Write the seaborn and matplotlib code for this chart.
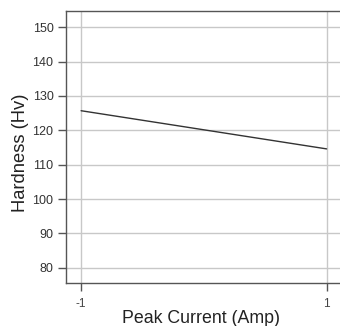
import matplotlib
matplotlib.use("Agg")
import matplotlib.pyplot as plt
import pandas as pd
import seaborn as sns

# main effect of peak current on hardness
peak_current = [-1, 1]
hardness = [125.7, 114.6]
y_ticks = [80, 90, 100, 110, 120, 130, 140, 150]
x_ticks = [-1, 1]

df = pd.DataFrame({"Peak Current (Amp)": peak_current, "Hardness (Hv)": hardness})

sns.set_theme(style="white")
plt.rcParams["font.family"] = ["Liberation Sans", "DejaVu Sans"]
plt.rcParams["axes.unicode_minus"] = False

fig = plt.figure(figsize=(3.4, 3.26), dpi=100)
ax = fig.add_axes([66 / 340, (326 - 283) / 326, 1.0 - 66 / 340 + 0.005, (283 - 11) / 326])

sns.lineplot(data=df, x="Peak Current (Amp)", y="Hardness (Hv)", ax=ax,
             color="#333333", linewidth=1.0)

ax.set_xlim(-1.123, 1.123)
ax.set_ylim(75.6, 154.7)
ax.set_xticks(x_ticks)
ax.set_xticklabels([str(v) for v in x_ticks])
ax.set_yticks(y_ticks)
ax.grid(True, color="#c8c8c8", linewidth=1.0)
ax.set_axisbelow(True)

for side in ["left", "bottom", "top"]:
    ax.spines[side].set_color("#555555")
    ax.spines[side].set_linewidth(1.0)
ax.spines["right"].set_visible(False)

ax.tick_params(axis="y", direction="out", length=6, width=1, color="#555555",
               labelsize=9, labelcolor="#333333", pad=3, left=True)
ax.tick_params(axis="x", direction="out", length=6, width=1, color="#555555",
               labelsize=8.5, labelcolor="#444444", pad=4.5, bottom=True)

ax.set_xlabel("Peak Current (Amp)", fontsize=12.8, color="#222222")
ax.set_ylabel("Hardness (Hv)", fontsize=13.2, color="#222222")
ax.xaxis.set_label_coords(0.488, -0.1)
ax.yaxis.set_label_coords(-0.135, 0.48)

fig.savefig("out.png", dpi=100)
